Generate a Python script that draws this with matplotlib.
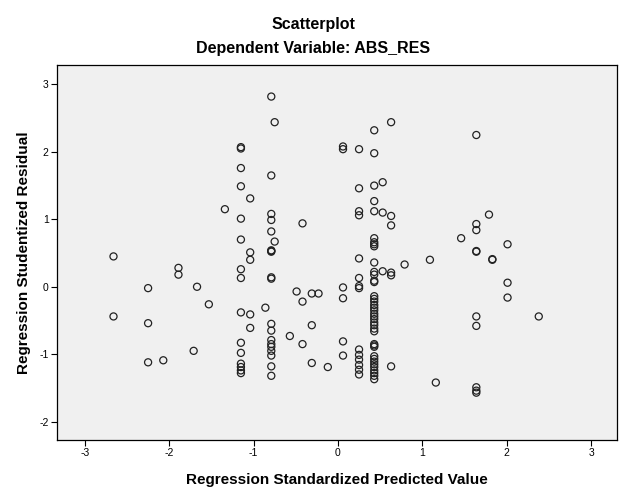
import matplotlib.pyplot as plt
import numpy as np

plt.rcParams['font.family'] = ['Liberation Sans', 'DejaVu Sans']
plt.rcParams['axes.unicode_minus'] = False

# standardized predicted values (one per column of points)
pred_cols = [-2.66, -2.25, -2.07, -1.89, -1.71, -1.67, -1.53, -1.34, -1.15, -1.04,
             -0.86, -0.79, -0.75, -0.57, -0.49, -0.42, -0.31, -0.23, -0.12, 0.06,
             0.25, 0.43, 0.53, 0.63, 0.79, 1.09, 1.16, 1.46, 1.64, 1.79,
             1.83, 2.01, 2.38]

# studentized residuals for each column
resid_cols = [
    [0.45, -0.44],
    [-0.02, -0.54, -1.12],
    [-1.09],
    [0.28, 0.18],
    [-0.95],
    [0.0],
    [-0.26],
    [1.15],
    [2.05, 2.07, 1.76, 1.49, 1.01, 0.70, 0.26, 0.13, -0.38, -0.83, -0.98,
     -1.14, -1.19, -1.24, -1.28],
    [1.31, 0.51, 0.40, -0.41, -0.61],
    [-0.31],
    [2.82, 1.65, 1.08, 0.99, 0.82, 0.54, 0.53, 0.52, 0.14, 0.12, -0.55, -0.65,
     -0.79, -0.85, -0.89, -0.95, -1.02, -1.18, -1.32],
    [2.44, 0.67],
    [-0.73],
    [-0.07],
    [0.94, -0.22, -0.85],
    [-0.10, -0.57, -1.13],
    [-0.10],
    [-1.19],
    [2.08, 2.04, -0.01, -0.17, -0.81, -1.02],
    [2.04, 1.46, 1.12, 1.06, 0.42, 0.13, 0.01, -0.02, -0.93, -1.01, -1.08,
     -1.16, -1.23, -1.30],
    [2.32, 1.98, 1.50, 1.27, 1.12, 0.72, 0.66, 0.63, 0.60, 0.36, 0.22, 0.18,
     0.09, 0.07, -0.14, -0.18, -0.22, -0.27, -0.31, -0.35, -0.40, -0.44,
     -0.48, -0.53, -0.57, -0.62, -0.66, -0.85, -0.87, -0.89, -1.03, -1.07,
     -1.11, -1.15, -1.19, -1.24, -1.28, -1.32, -1.37],
    [1.55, 1.10, 0.23],
    [2.44, 1.05, 0.91, 0.21, 0.17, -1.18],
    [0.33],
    [0.40],
    [-1.42],
    [0.72],
    [2.25, 0.93, 0.84, 0.53, 0.52, -0.44, -0.58, -1.49, -1.54, -1.57],
    [1.07],
    [0.40, 0.41],
    [0.63, 0.06, -0.16],
    [-0.44],
]

x = np.concatenate([[p] * len(r) for p, r in zip(pred_cols, resid_cols)])
y = np.concatenate(resid_cols)

fig = plt.figure(figsize=(6.26, 5.01), dpi=100)
ax = fig.add_axes([0.091, 0.122, 0.895, 0.748])
ax.set_facecolor('#F0F0F0')

ax.scatter(x, y, s=26, facecolors='none', edgecolors='#222222', linewidths=0.9)

ax.set_xlim(-3.33, 3.31)
ax.set_ylim(-2.27, 3.286)
ax.set_xticks([-3, -2, -1, 0, 1, 2, 3])
ax.set_yticks([-2, -1, 0, 1, 2, 3])
ax.tick_params(direction='out', length=4, width=0.8, labelsize=7.5, pad=2)
for s in ax.spines.values():
    s.set_linewidth(0.9)

ax.set_xlabel("Regression Standardized Predicted Value", fontsize=11,
              fontweight='bold', labelpad=11)
ax.set_ylabel("Regression Studentized Residual", fontsize=11,
              fontweight='bold', labelpad=6)

fig.text(0.5, 0.943, "Scatterplot", ha='center', va='baseline',
         fontsize=11.5, fontweight='bold')
fig.text(0.5, 0.894, "Dependent Variable: ABS_RES", ha='center', va='baseline',
         fontsize=11.5, fontweight='bold')

fig.savefig("out.png", dpi=100)
